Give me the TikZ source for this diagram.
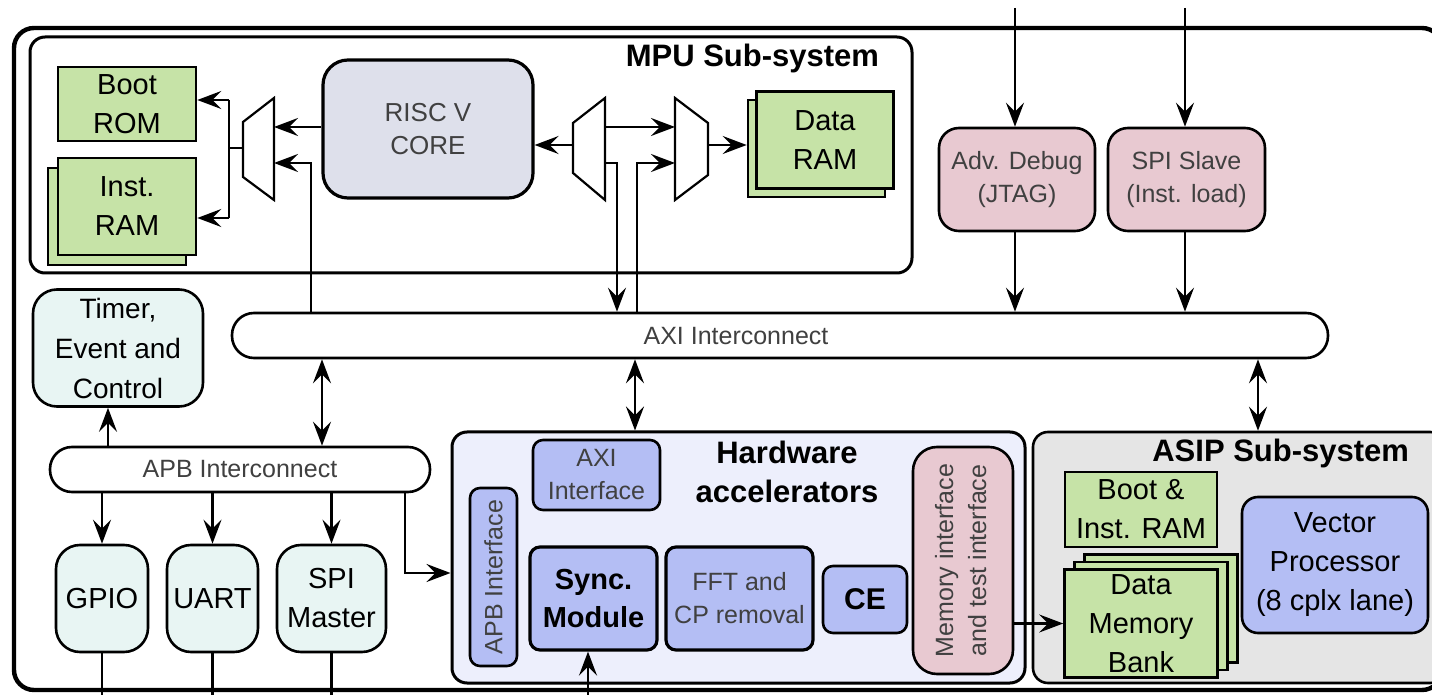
\documentclass[tikz,border=0pt]{standalone}
\usepackage{fontspec}
\setmainfont{Liberation Sans}
\usetikzlibrary{arrows.meta, calc}
\definecolor{ramgreen}{HTML}{C6E3A7}
\definecolor{coregray}{HTML}{DEE0EB}
\definecolor{dbgpink}{HTML}{E8C9D1}
\definecolor{periphcyan}{HTML}{E8F5F3}
\definecolor{hwlilac}{HTML}{EDEFFC}
\definecolor{hwblue}{HTML}{B4BEF4}
\definecolor{asipgray}{HTML}{E5E5E5}

\begin{document}
\begin{tikzpicture}[x=0.5pt, y=-0.5pt, line width=1.3pt,
    >={Stealth[length=12pt, width=9pt, inset=4.5pt]},
    lbl/.style={font=\fontsize{14.5}{19.5}\selectfont, align=center},
    light/.style={font=\fontsize{12.5}{16.5}\selectfont, text=black!75, align=center},
    title/.style={font=\bfseries\fontsize{15.5}{19.5}\selectfont, align=center},
    ram/.style={draw, fill=ramgreen, lbl, inner sep=0pt},
    periph/.style={draw, fill=periphcyan, rounded corners=12pt, lbl, inner sep=0pt},
    dbg/.style={draw, fill=dbgpink, rounded corners=10pt, light, inner sep=0pt},
    accel/.style={draw, fill=hwblue, rounded corners=5pt, inner sep=0pt},
    bus/.style={draw, fill=white, rounded corners=11pt, light, inner sep=0pt},
    subsys/.style={draw, rounded corners=7.5pt, line width=1.5pt, inner sep=0pt},
    mux/.style={draw, fill=white, line width=1.1pt}]

    \fill[white] (0,0) rectangle (1432,695);
    \useasboundingbox (0,0) rectangle (1432,695);
    \draw[line width=2.2pt, rounded corners=10pt] (14,28) rectangle (1442,690);

    % MPU sub-system
    \node[subsys, minimum width=441pt, minimum height=118pt] (mpu) at (471,155) {};
    \node[title, anchor=east] (mputitle) at (887,58) {MPU Sub-system};

    \node[ram, minimum width=69pt, minimum height=37pt] (bootrom) at (127,104) {Boot\\ROM};
    \node[ram, minimum width=69pt, minimum height=48.5pt] (instramb) at (117,216.5) {};
    \node[ram, minimum width=69pt, minimum height=48.5pt] (instram) at (127,206.5) {Inst.\\RAM};

    \node[draw, fill=coregray, rounded corners=12.5pt, line width=1.6pt, light,
          font=\fontsize{13}{16.5}\selectfont, minimum width=105pt, minimum height=69pt] (core) at (428,129) {RISC V\\CORE};

    \node[ram, minimum width=68.5pt, minimum height=48.5pt] (dataramb) at (816.5,148.5) {};
    \node[ram, minimum width=68.5pt, minimum height=48.5pt] (dataram) at (825,140) {Data\\RAM};

    % muxes
    \draw[mux] (243,122) -- (274,98) -- (274,200) -- (243,177) -- cycle;
    \draw[mux] (573,123) -- (605,98) -- (605,200) -- (573,173) -- cycle;
    \draw[mux] (675,98) -- (708,123) -- (708,175) -- (675,200) -- cycle;
    \coordinate (mlA) at (274,127);
    \coordinate (mlB) at (274,163);
    \coordinate (mlO) at (243,148);
    \coordinate (split) at (229,148);
    \coordinate (imem) at (311,163);
    \coordinate (mmO) at (573,145);
    \coordinate (mmA) at (605,127);
    \coordinate (mmB) at (605,163);
    \coordinate (dmw) at (617,163);
    \coordinate (dmr) at (637,163);
    \coordinate (mrA) at (675,127);
    \coordinate (mrB) at (675,163);
    \coordinate (mrO) at (708,145);

    % debug and loader
    \node[dbg, minimum width=78pt, minimum height=51.5pt] (jtag) at (1017,179.5) {Adv. Debug\\(JTAG)};
    \node[dbg, minimum width=78.5pt, minimum height=51.5pt] (spis) at (1186.5,179.5) {SPI Slave\\(Inst. load)};
    \coordinate (jtagin) at (1015,8);
    \coordinate (spisin) at (1185,8);

    % interconnects
    \node[bus, minimum width=548pt, minimum height=22.5pt] (axi) at (780,335.5) {};
    \node[light] (axilbl) at (736,336) {AXI Interconnect};
    \node[bus, minimum width=190pt, minimum height=22.5pt] (apb) at (240,469.5) {APB Interconnect};

    % peripherals
    \node[periph, font=\fontsize{14}{20}\selectfont, minimum width=85pt, minimum height=58.5pt] (timer) at (118,348) {Timer,\\Event and\\Control};
    \foreach \n/\x/\w/\t in {gpio/102/46/GPIO, uart/212.5/45.5/UART, spim/331.5/54.5/{SPI\\Master}}{
        \node[periph, minimum width=\w pt, minimum height=53.5pt] (\n) at (\x,598.5) {\t};
    }

    % hardware accelerators
    \node[subsys, fill=hwlilac, minimum width=286.5pt, minimum height=125.5pt] (hw) at (738.5,557.5) {};
    \node[title] (hwtitle) at (787,472) {Hardware\\accelerators};
    \node[accel, light, minimum width=63.5pt, minimum height=35pt] (axiif) at (596.5,475) {AXI\\Interface};
    \node[accel, light, minimum width=23.5pt, minimum height=89pt] (apbif) at (493.5,577) {\rotatebox{90}{APB Interface}};
    \node[accel, lbl, font=\bfseries\fontsize{14.5}{19}\selectfont, line width=1.6pt,
          minimum width=63.5pt, minimum height=51.5pt] (sync) at (593.5,598.5) {Sync.\\Module};
    \node[accel, light, line width=1.6pt, minimum width=73.5pt, minimum height=51.5pt] (fft) at (739.5,598.5) {FFT and\\CP removal};
    \node[accel, font=\bfseries\fontsize{15}{19}\selectfont, minimum width=42pt, minimum height=33.5pt] (ce) at (865,599.5) {CE};
    \node[dbg, rounded corners=12pt, minimum width=50pt, minimum height=113.5pt] (memif) at (963,560.5)
        {\rotatebox{90}{\begin{tabular}{@{}c@{}}Memory interface\\and test interface\end{tabular}}};

    % ASIP sub-system
    \node[subsys, fill=asipgray, line width=1.3pt, minimum width=206pt, minimum height=125.5pt] (asip) at (1239,557.5) {};
    \node[title, anchor=east] (asiptitle) at (1417,453) {ASIP Sub-system};
    \node[ram, minimum width=76pt, minimum height=37.5pt] (bootinst) at (1141,509.5) {Boot \&\\Inst. RAM};
    \foreach \k in {2,1}{
        \node[ram, minimum width=76.5pt, minimum height=54pt] (dmb\k) at ({1141+10*\k},{623.5-7.5*\k}) {};
    }
    \node[ram, minimum width=76.5pt, minimum height=54pt] (dmb) at (1141,623.5) {Data\\Memory\\Bank};
    \node[accel, lbl, rounded corners=8pt, minimum width=93pt, minimum height=68pt] (vec) at (1335,565) {Vector\\Processor\\(8 cplx lane)};

    % MPU connections
    \draw[->] (core.west |- mlA) -- (mlA);
    \draw[->] (imem |- axi.north) -- (imem) -- (mlB);
    \draw (mlO) -- (split);
    \draw ([yshift=2pt]split |- bootrom.east) -- ([yshift=-5.75pt]split |- instram.east);
    \draw[->] ([yshift=2pt]split |- bootrom.east) -- ([yshift=2pt]bootrom.east);
    \draw[->] ([yshift=-5.75pt]split |- instram.east) -- ([yshift=-5.75pt]instram.east);
    \draw[->] (mmO) -- (mmO -| core.east);
    \draw[->] (mmA) -- (mrA);
    \draw[->] (mmB) -- (dmw) -- (dmw |- axi.north);
    \draw[->] (dmr |- axi.north) -- (dmr) -- (mrB);
    \draw[->] (mrO) -- (mrO -| dataramb.west);

    % debug ports
    \foreach \n in {jtag, spis}{
        \draw[->] (\n in) -- (\n in |- \n.north);
        \draw[->] (\n in |- \n.south) -- (\n in |- axi.north);
    }

    % bus links
    \foreach \x/\n in {322/apb, 635/hw, 1258/asip}{
        \draw[<->] (axi.south -| \x,0) -- (\n.north -| \x,0);
    }
    \draw[->] (apb.north -| 108,0) -- (timer.south -| 108,0);
    \foreach \n in {gpio, uart, spim}{
        \draw[->] (apb.south -| \n.north) -- (\n.north);
        \draw (\n.south) -- ++(0,60);
    }
    \coordinate (apbhw) at (405,573);
    \draw[->] (apb.south -| apbhw) -- (apbhw) -- (apbhw -| hw.west);
    \draw[<-] (sync.south -| 588,0) -- ++(0,60);
    \draw[->] (memif.east |- dmb.west) -- (dmb.west);

\end{tikzpicture}
\end{document}
